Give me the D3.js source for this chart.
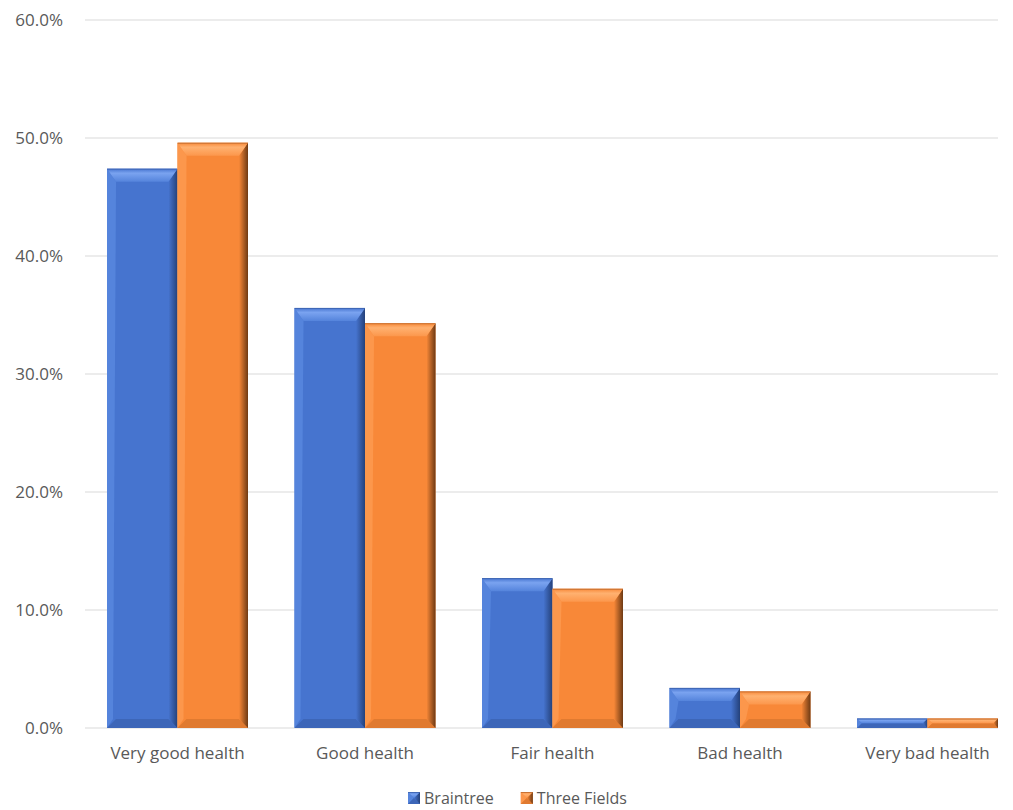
<!DOCTYPE html>
<html>
<head>
<meta charset="utf-8">
<script src="https://cdn.jsdelivr.net/npm/d3@7"></script>
<style>
body { margin: 0; background: #fff; }
text { font-family: "Open Sans", "Liberation Sans", sans-serif; fill: #595959; }
</style>
</head>
<body>
<svg id="chart" width="1013" height="810"></svg>
<script>
// data
var categories = ["Very good health", "Good health", "Fair health", "Bad health", "Very bad health"];
var seriesNames = ["Braintree", "Three Fields"];
var braintree = [0.474, 0.356, 0.127, 0.034, 0.008];
var threeFields = [0.496, 0.343, 0.118, 0.031, 0.008];
var yTicks = [0, 0.1, 0.2, 0.3, 0.4, 0.5, 0.6];

var colors = { "Braintree": "#4674cf", "Three Fields": "#f88838" };
var light = { "Braintree": "#7aa3f0", "Three Fields": "#ffb170" };
var dark = { "Braintree": "#24417a", "Three Fields": "#6e3a14" };
var left = { "Braintree": "#5584dc", "Three Fields": "#fc974c" };
var bottom = { "Braintree": "#3d66b8", "Three Fields": "#e07a30" };

var margin = { top: 20, right: 15, bottom: 82, left: 85 },
    width = 1013 - margin.left - margin.right,
    height = 810 - margin.top - margin.bottom;

var svg = d3.select("#chart");
var defs = svg.append("defs");

// gradients for the bevel edges
seriesNames.forEach(function (s, i) {
    var gr = defs.append("linearGradient").attr("id", "right" + i).attr("x1", 0).attr("x2", 1).attr("y1", 0).attr("y2", 0);
    gr.append("stop").attr("offset", "0%").attr("stop-color", colors[s]);
    gr.append("stop").attr("offset", "100%").attr("stop-color", dark[s]);
    var gt = defs.append("linearGradient").attr("id", "top" + i).attr("x1", 0).attr("x2", 0).attr("y1", 0).attr("y2", 1);
    gt.append("stop").attr("offset", "0%").attr("stop-color", colors[s]);
    gt.append("stop").attr("offset", "35%").attr("stop-color", light[s]);
    gt.append("stop").attr("offset", "100%").attr("stop-color", left[s]);
});

var g = svg.append("g").attr("transform", "translate(" + margin.left + "," + margin.top + ")");

var xScale = d3.scaleBand().domain(categories).range([22, 913]).paddingInner(0.248).paddingOuter(0);
var xInner = d3.scaleBand().domain(seriesNames).range([0, xScale.bandwidth()]);
var yScale = d3.scaleLinear().domain([0, 0.6]).range([height, 0]);

// gridlines
g.selectAll(".grid")
    .data(yTicks)
    .enter()
    .append("line")
    .attr("x1", 0)
    .attr("x2", width)
    .attr("y1", function (d) { return yScale(d); })
    .attr("y2", function (d) { return yScale(d); })
    .attr("stroke", "#d9d9d9")
    .attr("stroke-width", 1);

// y labels
var yAxis = d3.axisLeft(yScale).tickValues(yTicks).tickFormat(d3.format(".1%")).tickSize(0).tickPadding(22);
var yg = g.append("g").call(yAxis);
yg.select(".domain").remove();
yg.selectAll("text").style("font-size", "17px").attr("fill", "#595959");

// x labels
var xAxis = d3.axisBottom(xScale).tickSize(0).tickPadding(19);
var xg = g.append("g").attr("transform", "translate(0," + height + ")").call(xAxis);
xg.select(".domain").remove();
xg.selectAll("text").style("font-size", "17px").attr("fill", "#595959");

var rows = categories.map(function (c, i) {
    return { cat: c, vals: [{ s: "Braintree", v: braintree[i] }, { s: "Three Fields", v: threeFields[i] }] };
});

function bevelBar(sel, x, y, w, h, s) {
    var i = seriesNames.indexOf(s);
    var b = Math.min(13, h / 2, w / 2);
    var bs = Math.min(9, h / 2, w / 2);
    sel.append("rect").attr("x", x).attr("y", y).attr("width", w).attr("height", h).attr("fill", colors[s]);
    // left
    sel.append("polygon")
        .attr("points", [[x, y], [x + bs, y + b], [x + 6, y + h - bs], [x, y + h]].join(" "))
        .attr("fill", left[s]);
    // bottom
    sel.append("polygon")
        .attr("points", [[x, y + h], [x + bs, y + h - bs], [x + w - bs, y + h - bs], [x + w, y + h]].join(" "))
        .attr("fill", bottom[s]);
    // right
    sel.append("polygon")
        .attr("points", [[x + w, y], [x + w - bs, y + b], [x + w - bs, y + h - bs], [x + w, y + h]].join(" "))
        .attr("fill", "url(#right" + i + ")");
    // top
    sel.append("polygon")
        .attr("points", [[x, y], [x + w, y], [x + w - bs, y + b], [x + bs, y + b]].join(" "))
        .attr("fill", "url(#top" + i + ")");
    sel.append("line").attr("x1", x).attr("x2", x + w).attr("y1", y + 0.5).attr("y2", y + 0.5)
        .attr("stroke", dark[s]).attr("stroke-opacity", 0.35);
}

rows.forEach(function (r) {
    var cg = g.append("g").attr("transform", "translate(" + xScale(r.cat) + ",0)");
    r.vals.forEach(function (d) {
        var x = xInner(d.s);
        var y = yScale(d.v);
        bevelBar(cg.append("g"), x, y, xInner.bandwidth(), height - y, d.s);
    });
});

// legend
var legend = svg.append("g").attr("transform", "translate(408,798)");
var lx = 0;
seriesNames.forEach(function (s) {
    var item = legend.append("g").attr("transform", "translate(" + lx + ",0)");
    bevelBar(item, 0, -6, 12, 12, s);
    var t = item.append("text").attr("x", 16).attr("y", 0).attr("dy", "0.35em").style("font-size", "16px").text(s);
    lx += 16 + t.node().getComputedTextLength() + 27;
});
</script>
</body>
</html>
